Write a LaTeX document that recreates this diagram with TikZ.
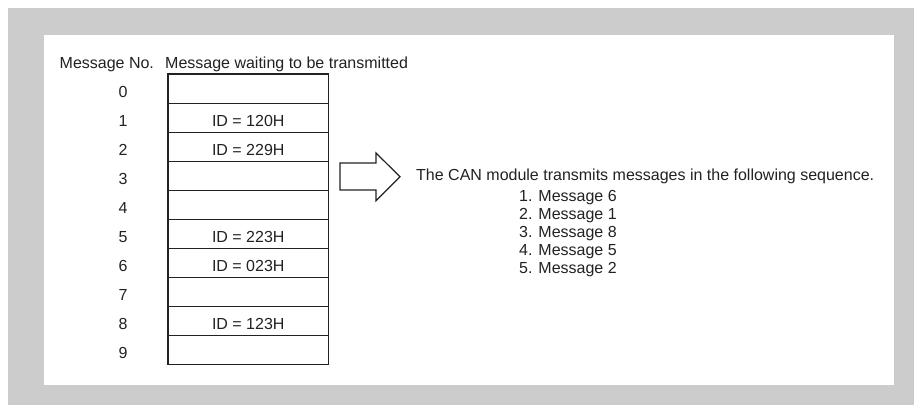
\documentclass[tikz,border=0pt]{standalone}
\usepackage{fontspec}
\setmainfont{Liberation Sans}
\definecolor{panelgray}{HTML}{CCCCCC}
\definecolor{inkgray}{HTML}{222222}
\begin{document}
\begin{tikzpicture}[x=1pt,y=-1pt,
  font=\fontsize{16}{18}\selectfont,
  txt/.style={inner sep=0pt, text=inkgray},
  cell/.style={draw=inkgray, line width=0.8pt, minimum width=159.5pt, minimum height=29pt, inner sep=0pt, text=inkgray, text height=17pt, text depth=0pt},
  num/.style={inner sep=0pt, text=inkgray, minimum height=29pt, text height=17pt, text depth=0pt},
  blockarrow/.style={draw=inkgray, line width=1.2pt, fill=white, line join=miter}
]
\useasboundingbox (0,0) rectangle (914,405);
\fill[white] (0,0) rectangle (914,405);
\fill[panelgray] (8,8) rectangle (914,405);
\fill[white] (44,35) rectangle (894,385);

% header
\node[txt, anchor=base west] (hno) at (59.5,68) {Message No.};
\node[txt, anchor=base west] (hmsg) at (165,68) {Message waiting to be transmitted};

% table cells
\foreach \i/\t in {0/,1/ID = 120H,2/ID = 229H,3/,4/,5/ID = 223H,6/ID = 023H,7/,8/ID = 123H,9/} {
  \node[cell] (c\i) at (248.25,{88.5+29*\i}) {\t};
  \node[num] (n\i) at (123,{88.5+29*\i}) {\i};
}
\draw[inkgray, line width=1.4pt] (c0.north west) rectangle (c9.south east);

% block arrow
\draw[blockarrow] (340,163) -- (376,163) -- (376,153) -- (400,176.7) -- (376,200.7) -- (376,190) -- (340,190) -- cycle;

% result text
\node[txt, anchor=base west] (res) at (416,180.5) {The CAN module transmits messages in the following sequence.};
\foreach \k/\m in {1/6,2/1,3/8,4/5,5/2} {
  \node[txt, anchor=base west] (item\k) at (519,{183+18*\k}) {\k. Message \m};
}
\end{tikzpicture}
\end{document}
